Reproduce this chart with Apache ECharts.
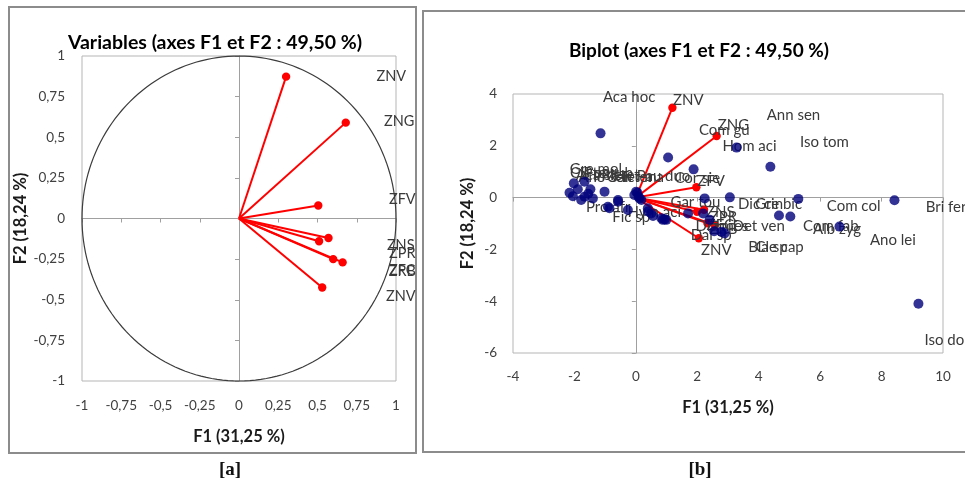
<!DOCTYPE html>
<html><head><meta charset="utf-8">
<script src="https://cdn.jsdelivr.net/npm/echarts@6/dist/echarts.min.js"></script>
<style>html,body{margin:0;padding:0;background:#fff}#c{width:965px;height:483px}</style>
</head><body><div id="c"></div>
<script>
// ---------- Panel [a]: variables (correlation circle) ----------
const varNames   = ['ZNV','ZNG','ZFV','ZNS','ZPR','ZFC','ZRB','ZNV'];
const varF1      = [0.30, 0.68, 0.505, 0.57, 0.51, 0.60, 0.66, 0.53];
const varF2      = [0.873, 0.59, 0.08, -0.12, -0.14, -0.25, -0.27, -0.425];
const varLabelF1 = [0.97, 1.02, 1.04, 1.03, 1.04, 1.04, 1.04, 1.03];
const varLabelF2 = [0.877, 0.60, 0.12, -0.165, -0.215, -0.32, -0.325, -0.48];
const circleRadius = [1];

// ---------- Panel [b]: biplot ----------
const bipVarF1 = [1.19, 2.63, 1.97, 2.22, 1.99, 2.33, 2.57, 2.05];
const bipVarF2 = [3.47, 2.38, 0.40, -0.47, -0.55, -0.99, -1.06, -1.57];
const bipVarLabelF1 = [1.71, 3.18, 2.45, 2.75, 2.85, 2.75, 2.85, 2.62];
const bipVarLabelF2 = [3.77, 2.80, 0.62, -0.55, -0.75, -1.05, -1.2, -2.03];

const obsF1 = [-1.15, 1.05, 1.88, 3.28, 4.38, 3.06, 2.24, 5.29, 4.66, 5.03, 6.63, 2.89, 2.55, 2.79, 8.42, 9.20,
  -2.02, -1.67, -2.16, -1.89, -1.67, -1.48, -1.40, -1.78, -1.02, -2.05, -1.55,
  -0.58, -0.86, -0.91, -0.58, -0.26, 0.39, 0.39, 0.50, 0.56, 0.83, 0.99, 0.94, 0.88, 1.70, 2.19, 2.40,
  0.01, 0.05, 0.09, 0.12, 0.18, -0.05];
const obsF2 = [2.48, 1.55, 1.09, 1.93, 1.19, 0.01, -0.03, -0.05, -0.69, -0.73, -1.12, -1.38, -1.30, -1.32, -0.10, -4.10,
  0.55, 0.61, 0.19, 0.32, 0.03, 0.32, -0.03, -0.09, 0.23, 0.05, 0.15,
  -0.09, -0.41, -0.35, -0.16, -0.48, -0.41, -0.54, -0.61, -0.71, -0.80, -0.86, -0.84, -0.86, -0.61, -0.61, -0.86,
  0.23, 0.19, 0.03, -0.03, -0.09, 0.10];

const obsLabels  = ['Aca hoc','Com gu','Hom aci','Ann sen','Iso tom','Dic cin','Gre bic','Com col','Bri fer','Com fab','Alb zyg','Ano lei','Bla sp','Cle cap','Det ven','Iso dol',
  'Fic sp','Gar tou','Cor sie','Pau duo','Gre mol','Cis pa','Aca sie','Pte sub','Ano sen','Pil ret','Gar ter','Ter ma','Pro afr','Dal sp','Dia mes','Hym aci'];
const obsLabelF1 = [-0.22, 2.88, 3.70, 5.13, 6.14, 4.06, 4.65, 7.09, 10.1, 6.35, 6.55, 8.37, 4.30, 4.68, 4.00, 10.1,
  -0.15, 1.94, 2.00, 0.90, -1.30, -1.50, -1.20, -0.90, -1.00, -0.50, -0.20, 0.20, -0.90, 2.45, 2.80, 0.60];
const obsLabelF2 = [3.88, 2.60, 1.99, 3.19, 2.15, -0.25, -0.25, -0.32, -0.36, -1.10, -1.20, -1.64, -1.91, -1.91, -1.10, -5.50,
  -0.75, -0.17, 0.75, 0.82, 1.10, 0.95, 0.85, 0.95, 0.80, 0.85, 0.80, 0.80, -0.35, -1.45, -1.10, -0.55];

const commaFmt = v => String(v).replace('.', ',');
const FONT = 'Lato, "Open Sans", sans-serif';
const tickColor = '#404040';

const chart = echarts.init(document.getElementById('c'), null, {renderer: 'canvas'});

function vectorItem(params, api) {
  const o = api.coord([0, 0]);
  const e = api.coord([api.value(0), api.value(1)]);
  return {type: 'group', children: [
    {type: 'line', shape: {x1: o[0], y1: o[1], x2: e[0], y2: e[1]}, style: {stroke: '#ff0000', lineWidth: 2}},
    {type: 'circle', shape: {cx: e[0], cy: e[1], r: 4.2}, style: {fill: '#ff0000'}}
  ]};
}
function labelRenderer(names, size) {
  return function (params, api) {
    const p = api.coord([api.value(0), api.value(1)]);
    return {type: 'text', x: p[0], y: p[1], style: {text: names[params.dataIndex], fill: '#3a3a3a',
      font: size + 'px ' + FONT, align: 'center', verticalAlign: 'middle'}};
  };
}

const baseLabelAxis = (min, max, interval, nameText, gap, margin) => ({
  min, max, interval, type: 'value',
  axisLine: {show: false}, axisTick: {show: false}, splitLine: {show: false},
  axisLabel: {color: tickColor, fontSize: 13.5, fontFamily: FONT, margin, formatter: commaFmt},
  name: nameText, nameLocation: 'middle', nameGap: gap,
  nameTextStyle: {fontFamily: FONT, fontWeight: 'bold', fontSize: 16.5, color: '#1a1a1a'}
});
const zeroAxis = (min, max, interval) => ({
  min, max, interval, type: 'value',
  axisLine: {show: true, onZero: true, lineStyle: {color: '#a0a0a0', width: 1}},
  axisTick: {show: true, inside: true, length: 4, lineStyle: {color: '#a0a0a0'}},
  axisLabel: {show: false}, splitLine: {show: false}
});

const option = {
  animation: false,
  backgroundColor: '#fff',
  grid: [
    {left: 82, top: 56, width: 314, height: 325, show: true, borderColor: '#b5b5b5', borderWidth: 1},
    {left: 513, top: 94, width: 430, height: 259, show: true, borderColor: '#b5b5b5', borderWidth: 1}
  ],
  xAxis: [
    Object.assign(baseLabelAxis(-1, 1, 0.25, 'F1 (31,25 %)', 47, 18), {gridIndex: 0, position: 'bottom'}),
    Object.assign(zeroAxis(-1, 1, 0.25), {gridIndex: 0, position: 'top'}),
    Object.assign(baseLabelAxis(-4, 10, 2, 'F1 (31,25 %)', 46, 17), {gridIndex: 1, position: 'bottom'}),
    Object.assign(zeroAxis(-4, 10, 2), {gridIndex: 1, position: 'top'})
  ],
  yAxis: [
    Object.assign(baseLabelAxis(-1, 1, 0.25, 'F2 (18,24 %)', 46, 17), {gridIndex: 0, position: 'left'}),
    Object.assign(zeroAxis(-1, 1, 0.25), {gridIndex: 0, position: 'right'}),
    Object.assign(baseLabelAxis(-6, 4, 2, 'F2 (18,24 %)', 37, 16), {gridIndex: 1, position: 'left'}),
    Object.assign(zeroAxis(-6, 4, 2), {gridIndex: 1, position: 'right'})
  ],
  graphic: [
    {type: 'rect', shape: {x: 9, y: 7, width: 407, height: 446}, style: {fill: 'none', stroke: '#8c8c8c', lineWidth: 2}, z: 0},
    {type: 'rect', shape: {x: 423, y: 11, width: 560, height: 441}, style: {fill: 'none', stroke: '#8c8c8c', lineWidth: 2}, z: 0},
    {type: 'text', x: 215, y: 43, style: {text: 'Variables (axes F1 et F2 : 49,50 %)', font: 'bold 19.5px ' + FONT, fill: '#000', align: 'center', verticalAlign: 'middle'}},
    {type: 'text', x: 699, y: 51, style: {text: 'Biplot (axes F1 et F2 : 49,50 %)', font: 'bold 19px ' + FONT, fill: '#000', align: 'center', verticalAlign: 'middle'}},
    {type: 'text', x: 230, y: 470, style: {text: '[a]', font: 'bold 19px "Liberation Serif", serif', fill: '#111', align: 'center', verticalAlign: 'middle'}},
    {type: 'text', x: 700, y: 470, style: {text: '[b]', font: 'bold 19px "Liberation Serif", serif', fill: '#111', align: 'center', verticalAlign: 'middle'}}
  ],
  series: [
    {type: 'custom', xAxisIndex: 0, yAxisIndex: 0, clip: false, silent: true,
      data: circleRadius.map(r => [0, 0, r]),
      renderItem: (params, api) => {
        const r = api.value(2), pts = [];
        for (let a = 0; a <= 360; a += 2) {
          const t = a * Math.PI / 180;
          pts.push(api.coord([r * Math.cos(t), r * Math.sin(t)]));
        }
        return {type: 'polyline', shape: {points: pts}, style: {stroke: '#3c3c3c', lineWidth: 1.2, fill: null}};
      }},
    {type: 'custom', xAxisIndex: 0, yAxisIndex: 0, clip: false, silent: true,
      data: varF1.map((v, i) => [v, varF2[i]]), renderItem: vectorItem},
    {type: 'custom', xAxisIndex: 0, yAxisIndex: 0, clip: false, silent: true,
      data: varLabelF1.map((v, i) => [v, varLabelF2[i]]), renderItem: labelRenderer(varNames, 14.5)},

    {type: 'scatter', xAxisIndex: 2, yAxisIndex: 2, symbolSize: 10, itemStyle: {color: '#00007a'},
      data: obsF1.map((v, i) => [v, obsF2[i]])},
    {type: 'custom', xAxisIndex: 2, yAxisIndex: 2, clip: false, silent: true,
      data: bipVarF1.map((v, i) => [v, bipVarF2[i]]), renderItem: vectorItem},
    {type: 'custom', xAxisIndex: 2, yAxisIndex: 2, clip: false, silent: true,
      data: obsLabelF1.map((v, i) => [v, obsLabelF2[i]]), renderItem: labelRenderer(obsLabels, 15)},
    {type: 'custom', xAxisIndex: 2, yAxisIndex: 2, clip: false, silent: true,
      data: bipVarLabelF1.map((v, i) => [v, bipVarLabelF2[i]]), renderItem: labelRenderer(varNames, 15)}
  ]
};
chart.setOption(option);
</script></body></html>
